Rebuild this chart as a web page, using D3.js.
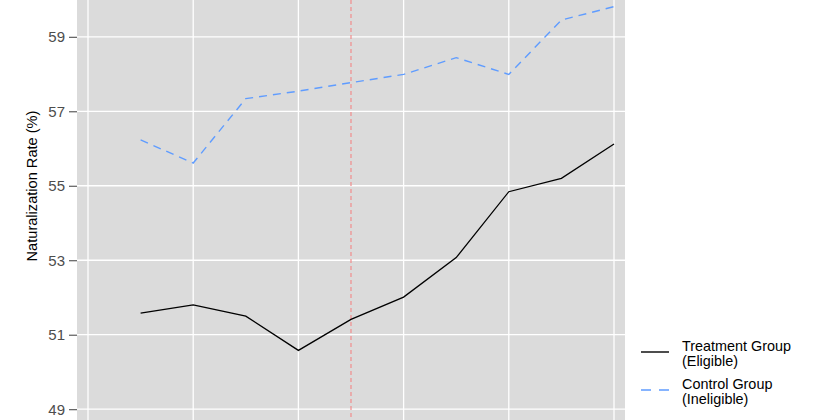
<!DOCTYPE html>
<html><head><meta charset="utf-8">
<script src="https://cdn.jsdelivr.net/npm/d3@7"></script>
<style>body{margin:0;background:#fff;}svg{display:block;font-family:"Liberation Sans",Arial,Helvetica,sans-serif;}</style>
</head><body><svg id="c" width="840" height="420"></svg>
<script>
// period index (x-axis labels not visible in the reference crop)
const periods = [1,2,3,4,5,6,7,8,9,10];
const treatment = [51.58,51.80,51.50,50.58,51.41,52.01,53.07,54.84,55.20,56.12];
const control   = [56.23,55.61,57.34,57.54,57.77,57.99,58.44,57.99,59.45,59.81];
const yTicks = [49,51,53,55,57,59];
const xBreaks = [0,2,4,6,8,10];
const cutoff = 5;
const seriesNames = [["Treatment Group","(Eligible)"],["Control Group","(Ineligible)"]];

const svg = d3.select("#c");
const panel = {left:77, right:625, top:0, bottom:420};
const x = d3.scaleLinear().domain([0,10]).range([88,614]);
const y = d3.scaleLinear().domain([49,59]).range([409.2,36.8]);

svg.append("rect").attr("x",panel.left).attr("y",panel.top)
  .attr("width",panel.right-panel.left).attr("height",panel.bottom-panel.top).attr("fill","#dbdbdb");

const g = svg.append("g");
g.selectAll("line.h").data(yTicks).join("line")
  .attr("x1",panel.left).attr("x2",panel.right)
  .attr("y1",d=>y(d)).attr("y2",d=>y(d))
  .attr("stroke","#fff").attr("stroke-width",1.3);
g.selectAll("line.v").data(xBreaks).join("line")
  .attr("y1",panel.top).attr("y2",panel.bottom)
  .attr("x1",d=>x(d)).attr("x2",d=>x(d))
  .attr("stroke","#fff").attr("stroke-width",1.3);

// cutoff line
g.append("line").attr("x1",x(cutoff)).attr("x2",x(cutoff))
  .attr("y1",panel.top).attr("y2",panel.bottom)
  .attr("stroke","#f08c8c").attr("stroke-width",1.2).attr("stroke-dasharray","4,3");

const line = d3.line().x((d,i)=>x(periods[i])).y(d=>y(d));
g.append("path").datum(control).attr("d",line).attr("fill","none")
  .attr("stroke","#5f9cff").attr("stroke-width",1.4).attr("stroke-dasharray","8,6");
g.append("path").datum(treatment).attr("d",line).attr("fill","none")
  .attr("stroke","#000").attr("stroke-width",1.3);

// y axis
const yAxis = d3.axisLeft(y).tickValues(yTicks).tickSize(8).tickPadding(4);
const ya = svg.append("g").attr("transform",`translate(${panel.left},0)`).call(yAxis);
ya.select(".domain").remove();
ya.selectAll(".tick line").attr("stroke","#4d4d4d").attr("stroke-width",1.1);
ya.selectAll(".tick text").attr("fill","#4d4d4d").style("font-size","15px")
  .style("font-family","'Liberation Sans',Arial,sans-serif");

svg.append("text").attr("transform","translate(36.5,186) rotate(-90)")
  .attr("text-anchor","middle").style("font-size","14.6px").attr("fill","#000")
  .text("Naturalization Rate (%)");

// legend
const leg = svg.append("g");
const legY = [352,390];
const styles = [{c:"#000",d:null},{c:"#5f9cff",d:"10,8"}];
seriesNames.forEach((nm,i)=>{
  leg.append("line").attr("x1",641).attr("x2",669).attr("y1",legY[i]).attr("y2",legY[i])
    .attr("stroke",styles[i].c).attr("stroke-width",1.4).attr("stroke-dasharray",styles[i].d);
  const t = leg.append("text").attr("x",682).attr("y",legY[i]-1.5).style("font-size","14.4px").attr("fill","#000");
  t.append("tspan").attr("x",682).text(nm[0]);
  t.append("tspan").attr("x",682).attr("dy",15).text(nm[1]);
});
</script></body></html>
